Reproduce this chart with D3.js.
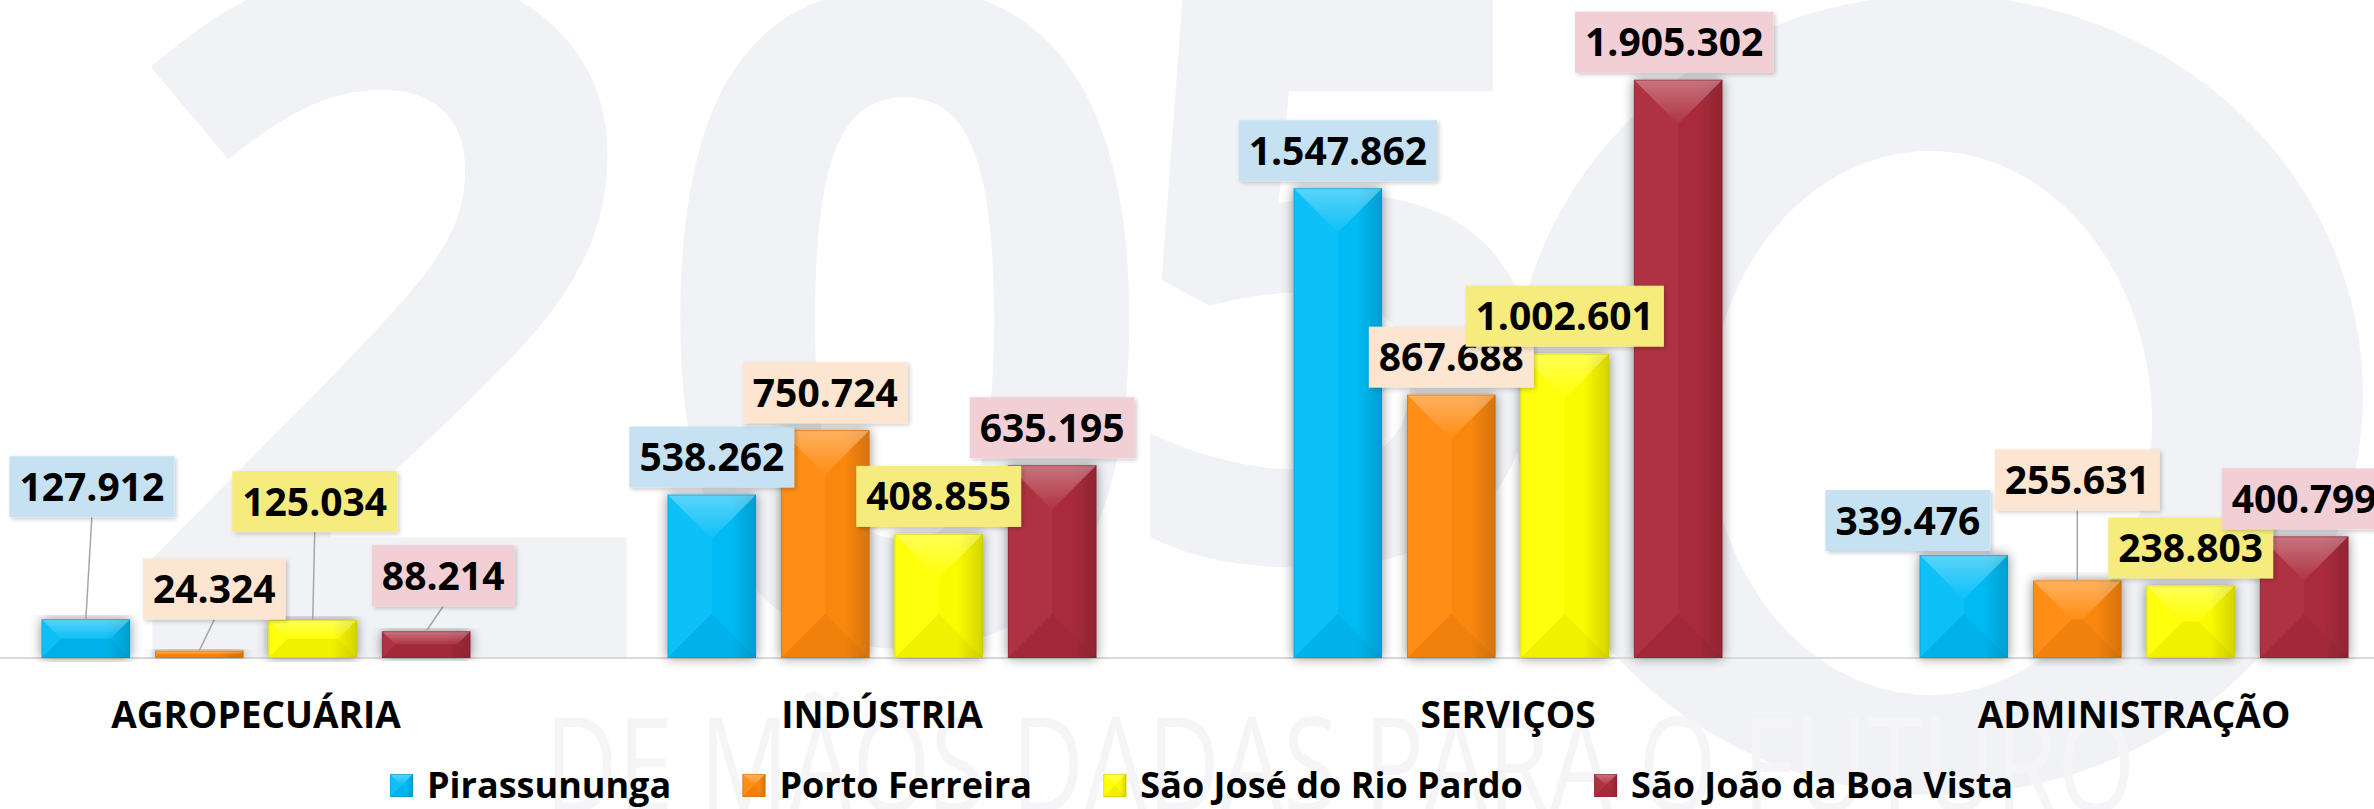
<!DOCTYPE html>
<html>
<head>
<meta charset="utf-8">
<script src="https://cdn.jsdelivr.net/npm/d3@7"></script>
<style>
body { margin: 0; background: #fff; }
svg { display: block; font-family: "Open Sans", sans-serif; }
</style>
</head>
<body>
<script>
var width = 2374,
    height = 809;

var categories = ["AGROPECUÁRIA", "INDÚSTRIA", "SERVIÇOS", "ADMINISTRAÇÃO"];
var series = ["Pirassununga", "Porto Ferreira", "São José do Rio Pardo", "São João da Boa Vista"];
var pirassununga = [127912, 538262, 1547862, 339476];
var portoFerreira = [24324, 750724, 867688, 255631];
var saoJose = [125034, 408855, 1002601, 238803];
var saoJoao = [88214, 635195, 1905302, 400799];
var values = [pirassununga, portoFerreira, saoJose, saoJoao];

// callouts moved by hand in the original: [dx, dy] per series, per category
var labelShift = [
    [[6, -95], [0, 0], [0, 0], [-56, 3]],
    [[15, -24], [0, 0], [0, 0], [0, -63]],
    [[2, -81], [0, 0], [0, 0], [0, 0]],
    [[17, -18], [0, 0], [-4, 0], [0, 0]]
];

var barColor = ["#06BEF8", "#FF8A0F", "#FFFF00", "#AD2D3D"];
var boxColor = ["#C5E1F2", "#FCE5D1", "#F6EC7D", "#F2CFD5"];

var baseY = 658;

var fmt = d3.formatLocale({decimal: ",", thousands: ".", grouping: [3], currency: ["R$", ""]}).format(",d");

var svg = d3.select("body").append("svg")
    .attr("width", width)
    .attr("height", height);

var defs = svg.append("defs");

var shadow = defs.append("filter").attr("id", "barShadow")
    .attr("x", "-30%").attr("y", "-10%").attr("width", "160%").attr("height", "120%");
shadow.append("feDropShadow").attr("dx", 0).attr("dy", 0).attr("stdDeviation", 6)
    .attr("flood-color", "#000").attr("flood-opacity", 0.45);

var boxShadow = defs.append("filter").attr("id", "boxShadow")
    .attr("x", "-10%").attr("y", "-10%").attr("width", "130%").attr("height", "130%");
boxShadow.append("feDropShadow").attr("dx", 2).attr("dy", 2).attr("stdDeviation", 2)
    .attr("flood-color", "#000").attr("flood-opacity", 0.2);

barColor.forEach(function (c, i) {
    var g = defs.append("linearGradient").attr("id", "body" + i)
        .attr("x1", 0).attr("y1", 0).attr("x2", 1).attr("y2", 0);
    g.append("stop").attr("offset", 0).attr("stop-color", c);
    g.append("stop").attr("offset", 0.72).attr("stop-color", c);
    g.append("stop").attr("offset", 1).attr("stop-color", d3.color(c).darker(0.45));
});
var tf = defs.append("linearGradient").attr("id", "topFace")
    .attr("x1", 0).attr("y1", 0).attr("x2", 0).attr("y2", 1);
tf.append("stop").attr("offset", 0).attr("stop-color", "#fff").attr("stop-opacity", 0.34);
tf.append("stop").attr("offset", 1).attr("stop-color", "#fff").attr("stop-opacity", 0.03);

// faint "2050" watermark behind the chart
var wm = svg.append("g").attr("fill", "#F1F2F5");
wm.append("text").attr("x", 386).attr("y", 658).attr("text-anchor", "middle")
    .attr("font-size", 950).attr("font-weight", 700).text("2");
wm.append("text").attr("x", 905).attr("y", 640).attr("text-anchor", "middle")
    .attr("font-size", 900).attr("font-weight", 700).text("0");
wm.append("text").attr("x", 1340).attr("y", 560).attr("text-anchor", "middle")
    .attr("font-size", 800).attr("font-weight", 700).text("5");
wm.append("path")
    .attr("fill-rule", "evenodd")
    .attr("d", "M1513,395a425,400 0 1,0 850,0a425,400 0 1,0 -850,0Z" +
               "M1708,423a222,272 0 1,0 444,0a222,272 0 1,0 -444,0Z");
svg.append("text").attr("x", 1340).attr("y", 812).attr("text-anchor", "middle")
    .attr("font-size", 132).attr("fill", "#F5F5F7")
    .attr("textLength", 1590).attr("lengthAdjust", "spacingAndGlyphs")
    .text("DE MÃOS DADAS PARA O FUTURO");

var x0 = d3.scaleBand()
    .domain(categories)
    .range([-57, 2447])
    .paddingInner(0.315)
    .paddingOuter(0.1575);

var x1 = d3.scaleBand()
    .domain(d3.range(series.length))
    .range([0, x0.bandwidth()])
    .paddingInner(0.22);

var y = d3.scaleLinear()
    .domain([0, 2168000])
    .range([baseY, 0]);

svg.append("line")
    .attr("x1", 0).attr("x2", width)
    .attr("y1", baseY).attr("y2", baseY)
    .attr("stroke", "#D9D9D9").attr("stroke-width", 2);

function bevelBar(g, x, top, w, h, i) {
    var d = Math.min(w, h) / 2,
        xr = x + w,
        yb = top + h;
    g.append("rect")
        .attr("x", x).attr("y", top).attr("width", w).attr("height", h)
        .attr("fill", "url(#body" + i + ")");
    var faces = [
        {pts: [[x, top], [xr, top], [xr - d, top + d], [x + d, top + d]], fill: "url(#topFace)"},
        {pts: [[x, yb], [xr, yb], [xr - d, yb - d], [x + d, yb - d]], fill: "rgba(0,0,0,0.06)"},
        {pts: [[xr, top], [xr, yb], [xr - d, yb - d], [xr - d, top + d]], fill: "rgba(0,0,0,0.02)"},
        {pts: [[x, top], [x, yb], [x + d, yb - d], [x + d, top + d]], fill: "rgba(255,255,255,0.03)"}
    ];
    faces.forEach(function (f) {
        g.append("polygon")
            .attr("points", f.pts.map(function (p) { return p.join(","); }).join(" "))
            .attr("fill", f.fill);
    });
    g.append("rect")
        .attr("x", x + 0.5).attr("y", top + 0.5)
        .attr("width", Math.max(w - 1, 0)).attr("height", Math.max(h - 1, 0))
        .attr("fill", "none")
        .attr("stroke", d3.color(barColor[i]).darker(0.7))
        .attr("stroke-opacity", 0.5)
        .attr("stroke-width", 1);
}

// bars
var barLayer = svg.append("g");
categories.forEach(function (cat, j) {
    series.forEach(function (s, i) {
        var v = values[i][j];
        var g = barLayer.append("g").attr("filter", "url(#barShadow)");
        bevelBar(g, x0(cat) + x1(i), y(v), x1.bandwidth(), y(0) - y(v), i);
    });
});

// value callouts
var labelLayer = svg.append("g");
var boxH = 61, gap = 7;
categories.forEach(function (cat, j) {
    series.forEach(function (s, i) {
        var v = values[i][j];
        var cx = x0(cat) + x1(i) + x1.bandwidth() / 2;
        var shift = labelShift[i][j];
        var bx = cx + shift[0];
        var bottom = y(v) - gap + shift[1];

        if (shift[1] < -15) {
            labelLayer.append("line")
                .attr("x1", bx).attr("y1", bottom)
                .attr("x2", cx).attr("y2", y(v))
                .attr("stroke", "#A6A6A6").attr("stroke-width", 1.5);
        }

        var g = labelLayer.append("g");
        var rect = g.append("rect")
            .attr("fill", boxColor[i])
            .attr("filter", "url(#boxShadow)");
        var t = g.append("text")
            .attr("x", bx)
            .attr("y", bottom - boxH / 2)
            .attr("dy", "0.36em")
            .attr("text-anchor", "middle")
            .attr("font-size", 39)
            .attr("font-weight", 700)
            .attr("fill", "#000")
            .text(fmt(v));
        var tw = t.node().getComputedTextLength();
        rect.attr("x", bx - tw / 2 - 10)
            .attr("y", bottom - boxH)
            .attr("width", tw + 20)
            .attr("height", boxH);
    });
});

// category labels
svg.append("g").selectAll("text")
    .data(categories)
    .enter().append("text")
    .attr("x", function (d) { return x0(d) + x0.bandwidth() / 2; })
    .attr("y", 728)
    .attr("text-anchor", "middle")
    .attr("font-size", 37)
    .attr("font-weight", 700)
    .attr("fill", "#000")
    .text(function (d) { return d; });

// legend, spread between the same left and right edges as the original
var legend = svg.append("g");
var items = [];
series.forEach(function (s, i) {
    var g = legend.append("g");
    var mg = g.append("g");
    bevelBar(mg, 0, 774, 23, 23, i);
    g.append("text")
        .attr("x", 37)
        .attr("y", 798)
        .attr("font-size", 36)
        .attr("font-weight", 700)
        .attr("fill", "#000")
        .text(s);
    items.push(g);
});
var legendLeft = 390, legendRight = 2013;
var widths = items.map(function (g) { return g.node().getBBox().width; });
var itemGap = (legendRight - legendLeft - d3.sum(widths)) / (items.length - 1);
var lx = legendLeft;
items.forEach(function (g, i) {
    g.attr("transform", "translate(" + lx + ",0)");
    lx += widths[i] + itemGap;
});
</script>
</body>
</html>
